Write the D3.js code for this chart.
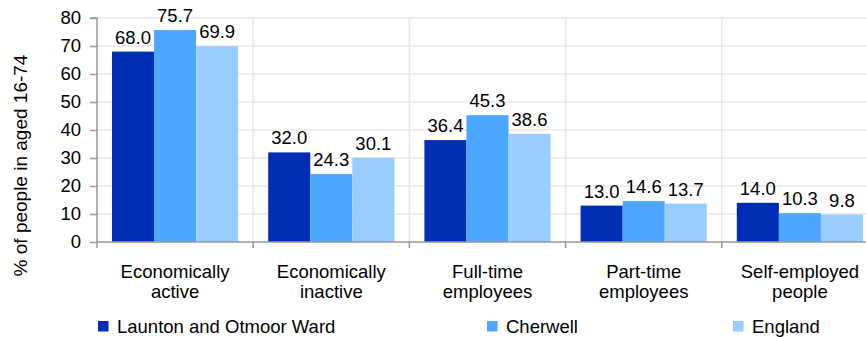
<!DOCTYPE html>
<html><head><meta charset="utf-8">
<script src="https://cdn.jsdelivr.net/npm/d3@7"></script>
<style>body{margin:0;background:#fff}svg{display:block;font-family:"Liberation Sans",Arial,sans-serif}</style>
</head><body><svg id="c" width="866" height="338"></svg>
<script>
const categories = [["Economically","active"],["Economically","inactive"],["Full-time","employees"],["Part-time","employees"],["Self-employed","people"]];
const seriesNames = ["Launton and Otmoor Ward","Cherwell","England"];
const ward = [68.0,32.0,36.4,13.0,14.0];
const cherwell = [75.7,24.3,45.3,14.6,10.3];
const england = [69.9,30.1,38.6,13.7,9.8];
const colors = ["#002DB3","#4DA6FF","#99CCFF"];
const yTicks = [0,10,20,30,40,50,60,70,80];

const FS = 18.5;
const series = [ward, cherwell, england];
const svg = d3.select("#c");
const x0 = 97, bandW = 156.2;
const x = d3.scaleBand().domain(d3.range(categories.length)).range([x0, x0 + bandW*categories.length]);
const xs = d3.scaleBand().domain(d3.range(3)).range([15, bandW-15]);
const y = d3.scaleLinear().domain([0,80]).range([242,18]);

// gridlines
svg.append("g").selectAll("line").data(yTicks.slice(1)).join("line")
  .attr("x1", x0).attr("x2", 866).attr("y1", d=>y(d)).attr("y2", d=>y(d))
  .attr("stroke","#e8e8e8").attr("stroke-width",1.5);
svg.append("g").selectAll("line").data(d3.range(1,categories.length)).join("line")
  .attr("x1", d=>x(d)).attr("x2", d=>x(d)).attr("y1", y(80)).attr("y2", y(0))
  .attr("stroke","#e8e8e8").attr("stroke-width",1.5);

// bars
series.forEach((s,si)=>{
  const g = svg.append("g");
  g.selectAll("rect").data(s).join("rect")
    .attr("x",(d,i)=>x(i)+xs(si)).attr("width",xs.bandwidth())
    .attr("y",d=>y(d)).attr("height",d=>y(0)-y(d)).attr("fill",colors[si]);
  g.selectAll("text").data(s).join("text")
    .attr("x",(d,i)=>x(i)+xs(si)+xs.bandwidth()/2).attr("y",d=>y(d)-8)
    .attr("text-anchor","middle").attr("font-size",FS).attr("fill","#000")
    .text(d=>d.toFixed(1));
});

// y axis
const yAxis = d3.axisLeft(y).tickValues(yTicks).tickSize(7).tickPadding(9);
const ya = svg.append("g").attr("transform",`translate(${x0},0)`).call(yAxis);
ya.select(".domain").attr("stroke","#999").attr("stroke-width",1.5).attr("d",`M-7,${y(80)}H0V${y(0)}`);
ya.selectAll(".tick line").attr("stroke","#999").attr("stroke-width",1.5);
ya.selectAll(".tick text").attr("font-size",FS).attr("fill","#000").attr("font-family",null).attr("x",-16);

// x axis
const xa = svg.append("g").attr("transform",`translate(0,${y(0)})`);
xa.append("line").attr("x1",x0).attr("x2",866).attr("y1",0).attr("y2",0).attr("stroke","#999").attr("stroke-width",1.5);
xa.selectAll("line.t").data(d3.range(categories.length+1)).join("line").attr("class","t")
  .attr("x1",d=>x0+d*bandW).attr("x2",d=>x0+d*bandW).attr("y1",0).attr("y2",6).attr("stroke","#999").attr("stroke-width",1.5);
xa.selectAll("g.cl").data(categories).join("g").attr("class","cl")
  .attr("transform",(d,i)=>`translate(${x(i)+x.bandwidth()/2},0)`)
  .each(function(d){
    d3.select(this).selectAll("text").data(d).join("text")
      .attr("text-anchor","middle").attr("font-size",FS).attr("fill","#000")
      .attr("y",(t,j)=>36+j*20).text(t=>t);
  });

// y title
svg.append("text").attr("transform","translate(27,165.5) rotate(-90)").attr("text-anchor","middle")
  .attr("font-size",19).attr("fill","#000").text("% of people in aged 16-74");

// legend
const legX = [98,487,733];
const lg = svg.append("g").selectAll("g").data(seriesNames).join("g")
  .attr("transform",(d,i)=>`translate(${legX[i]},321)`);
lg.append("rect").attr("width",10.5).attr("height",10.5).attr("fill",(d,i)=>colors[i]);
lg.append("text").attr("x",19).attr("y",11.5).attr("font-size",FS).attr("fill","#000").text(d=>d);
</script></body></html>
